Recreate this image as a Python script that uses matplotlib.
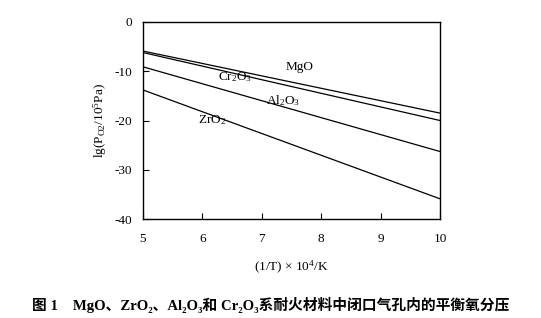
import matplotlib
matplotlib.use("Agg")
import matplotlib.pyplot as plt

plt.rcParams['font.family'] = ['Liberation Serif', 'Noto Sans CJK SC', 'DejaVu Serif']
plt.rcParams['mathtext.fontset'] = 'custom'
plt.rcParams['mathtext.rm'] = 'Liberation Serif'
plt.rcParams['mathtext.it'] = 'Liberation Serif:italic'
plt.rcParams['mathtext.bf'] = 'Liberation Serif:bold'
plt.rcParams['axes.unicode_minus'] = False

# data: lg(P_O2/10^5 Pa) vs (1/T)x10^4
x_vals = [5, 10]
mgo = [-5.9, -18.5]
cr2o3 = [-6.2, -20.0]
al2o3 = [-9.1, -26.3]
zro2 = [-13.8, -35.9]

series = [mgo, cr2o3, al2o3, zro2]
labels = ["MgO", r"Cr$_2$O$_3$", r"Al$_2$O$_3$", r"ZrO$_2$"]
label_pos = [(7.63, -9.1), (6.55, -11.1), (7.36, -16.0), (6.16, -19.9)]

xticks = [5, 6, 7, 8, 9, 10]
yticks = [0, -10, -20, -30, -40]

fig = plt.figure(figsize=(5.41, 3.18), dpi=100)
ax = fig.add_axes([143/541, 1 - 219/318, (440-143)/541, (219-22)/318])

for s in series:
    ax.plot(x_vals, s, color='black', lw=0.9)

for lab, (lx, ly) in zip(labels, label_pos):
    ax.text(lx, ly, lab, fontsize=9.5, ha='center', va='center')

ax.set_xlim(5, 10)
ax.set_ylim(-40, 0)
ax.set_xticks(xticks)
ax.set_yticks(yticks)
ax.tick_params(direction='in', length=4, width=0.8, labelsize=9.5)
ax.tick_params(axis='x', pad=10)
ax.tick_params(axis='y', pad=8)
for sp in ax.spines.values():
    sp.set_linewidth(1.0)

ax.set_xlabel(r"(1/T) $\times$ 10$^4$/K", fontsize=9.5, labelpad=10)
ax.set_ylabel(r"lg(P$_{\rm O2}$/10$^5$Pa)", fontsize=9.5, labelpad=4)

fig.text(0.5, 1 - 305/318,
         "图 1    MgO、ZrO₂、Al₂O₃和 Cr₂O₃系耐火材料中闭口气孔内的平衡氧分压",
         fontsize=10.6, fontweight='bold', ha='center', va='center')

fig.savefig("out.png", dpi=100)
